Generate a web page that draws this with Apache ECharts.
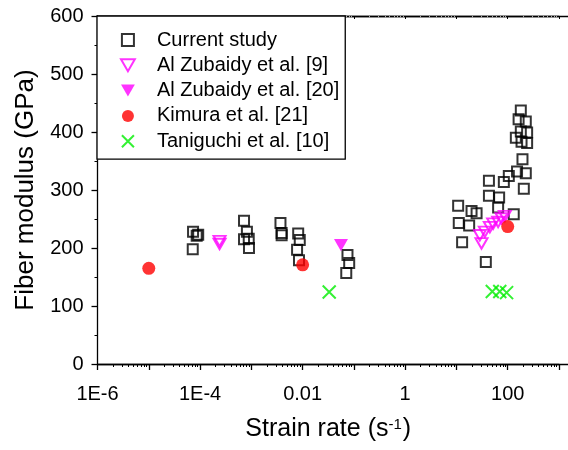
<!DOCTYPE html>
<html><head><meta charset="utf-8">
<script src="https://cdn.jsdelivr.net/npm/echarts@6/dist/echarts.min.js"></script>
<style>html,body{margin:0;padding:0;background:#fff}#c{width:568px;height:450px}</style>
</head><body><div id="c"></div>
<script>
// ---- data (strain rate s^-1, fiber modulus GPa) ----
const seriesNames = ['Current study', 'Al Zubaidy et al. [9]', 'Al Zubaidy et al. [20]', 'Kimura et al. [21]', 'Taniguchi et al. [10]'];
const currentStudy = [
  [7.3e-5, 228], [8.6e-5, 221], [9.2e-5, 223], [7.2e-5, 198],
  [7.2e-4, 247], [8.2e-4, 228], [7.2e-4, 215], [8.9e-4, 216], [9.0e-4, 200],
  [3.7e-3, 243], [3.9e-3, 226], [3.9e-3, 222],
  [8.2e-3, 225], [8.8e-3, 214], [7.8e-3, 197], [8.5e-3, 179],
  [0.075, 188], [0.081, 174], [0.071, 157],
  [180, 437], [163, 422], [225, 418], [144, 390], [180, 401], [239, 399], [239, 381], [186, 383],
  [194, 353], [225, 329], [152, 332], [105, 324], [84, 314], [43, 316], [206, 302], [43, 290],
  [68, 287], [10.8, 273], [19.7, 264], [24.7, 260], [65, 270], [131, 258], [11.1, 243],
  [17.7, 239], [12.9, 210], [37.4, 176]
];
const alZubaidy9 = [
  [2.4e-4, 212], [2.4e-4, 207],
  [30.8, 208], [28.6, 222], [35.8, 228], [44.8, 236], [52, 242], [65, 245], [75.7, 251], [87.7, 255]
];
const alZubaidy20 = [[0.056, 205]];
const kimura21 = [[1e-5, 165], [0.01, 171], [100, 237]];
const taniguchi10 = [[0.033, 124], [50, 125], [70, 125], [95, 123]];

const xTickValues = [1e-6, 1e-4, 0.01, 1, 100];
const xTickLabels = ['1E-6', '1E-4', '0.01', '1', '100'];
const yMin = 0, yMax = 600, yStep = 100;

const FONT = "'Liberation Sans', Arial, Helvetica, sans-serif";
const SQUARE = 'path://M0,0L10,0L10,10L0,10Z';
const TRI_DOWN = 'path://M0,0L12,0L6,10.4Z';
const CROSS = 'path://M0,0L10,10M10,0L0,10';
const chart = echarts.init(document.getElementById('c'), null, {renderer: 'canvas'});

const lineStyle = {color: '#000', width: 1.3};
function xLabel(v) {
  const i = xTickValues.findIndex(t => Math.abs(Math.log10(t) - Math.log10(v)) < 1e-6);
  return i >= 0 ? xTickLabels[i] : '';
}
const plainAxis = (gi, pos) => ({
  type: 'value', gridIndex: gi, position: pos, min: 0, max: 1,
  axisLine: {show: true, onZero: false, lineStyle: lineStyle},
  axisTick: {show: false}, axisLabel: {show: false}, splitLine: {show: false}
});

const option = {
  animation: false,
  backgroundColor: '#fff',
  grid: [
    {left: 97.5, right: 9, top: 16, bottom: 86},
    {left: 97.5, right: 0, top: 16, bottom: 86}
  ],
  xAxis: [
    {
      type: 'log', logBase: 10, gridIndex: 0, position: 'bottom', min: 1e-6, max: 1000,
      axisLine: {show: true, onZero: false, lineStyle: lineStyle},
      axisTick: {show: true, length: 6, inside: false, lineStyle: lineStyle},
      minorTick: {show: true, splitNumber: 9, length: 3, lineStyle: {color: '#000', width: 1}},
      splitLine: {show: false}, minorSplitLine: {show: false},
      axisLabel: {formatter: xLabel, interval: 0, margin: 20, fontSize: 20, color: '#000', fontFamily: FONT},
      name: 'Strain rate (s{sup|-1})', nameLocation: 'middle', nameGap: 53,
      nameTextStyle: {fontSize: 25, color: '#000', fontFamily: FONT,
        rich: {sup: {fontSize: 15, color: '#000', fontFamily: FONT, verticalAlign: 'top', lineHeight: 15, padding: [0, 1, 0, 0]}}}
    },
    {
      type: 'log', logBase: 10, gridIndex: 0, position: 'top', min: 1e-6, max: 1000,
      axisLine: {show: true, onZero: false, lineStyle: lineStyle},
      axisTick: {show: true, inside: true, length: 3, lineStyle: {color: '#000', width: 1}},
      minorTick: {show: true, splitNumber: 9, length: 1.5, lineStyle: {color: '#aaa', width: 1}},
      splitLine: {show: false}, axisLabel: {show: false}
    },
    plainAxis(1, 'bottom'),
    plainAxis(1, 'top')
  ],
  yAxis: [
    {
      type: 'value', gridIndex: 0, min: yMin, max: yMax, interval: yStep,
      axisLine: {show: true, onZero: false, lineStyle: lineStyle},
      axisTick: {show: true, length: 6, lineStyle: lineStyle},
      minorTick: {show: true, splitNumber: 2, length: 3, lineStyle: {color: '#000', width: 1}},
      splitLine: {show: false},
      axisLabel: {margin: 14, fontSize: 20, color: '#000', fontFamily: FONT},
      name: 'Fiber modulus (GPa)', nameLocation: 'middle', nameGap: 58, nameRotate: 90,
      nameTextStyle: {fontSize: 26, color: '#000', fontFamily: FONT}
    },
    {type: 'value', gridIndex: 1, show: false, min: 0, max: 1}
  ],
  legend: {
    orient: 'vertical', left: 97, top: 16, padding: [14, 6, 8, 23],
    itemWidth: 48, itemHeight: 12, itemGap: 5.3,
    borderColor: '#000', borderWidth: 1.3, backgroundColor: '#fff',
    textStyle: {fontSize: 20, lineHeight: 20, color: '#000', fontFamily: FONT},
    data: seriesNames
  },
  series: [
    {name: seriesNames[0], type: 'scatter', xAxisIndex: 0, yAxisIndex: 0, data: currentStudy,
      symbol: SQUARE, symbolSize: 10,
      itemStyle: {color: 'rgba(255,255,255,0)', borderColor: '#000', borderWidth: 2}},
    {name: seriesNames[1], type: 'scatter', xAxisIndex: 0, yAxisIndex: 0, data: alZubaidy9,
      symbol: TRI_DOWN, symbolSize: [12, 10.4],
      itemStyle: {color: 'rgba(255,255,255,0)', borderColor: '#ff00ff', borderWidth: 2}},
    {name: seriesNames[2], type: 'scatter', xAxisIndex: 0, yAxisIndex: 0, data: alZubaidy20,
      symbol: TRI_DOWN, symbolSize: [14, 12.1],
      itemStyle: {color: '#ff00ff'}},
    {name: seriesNames[3], type: 'scatter', xAxisIndex: 0, yAxisIndex: 0, data: kimura21,
      symbol: 'circle', symbolSize: 13,
      itemStyle: {color: '#ff0000'}},
    {name: seriesNames[4], type: 'scatter', xAxisIndex: 0, yAxisIndex: 0, data: taniguchi10,
      symbol: CROSS, symbolSize: 13,
      itemStyle: {color: 'rgba(0,0,0,0)', borderColor: '#00ee00', borderWidth: 2}}
  ]
};
chart.setOption(option);
</script>
</body></html>
